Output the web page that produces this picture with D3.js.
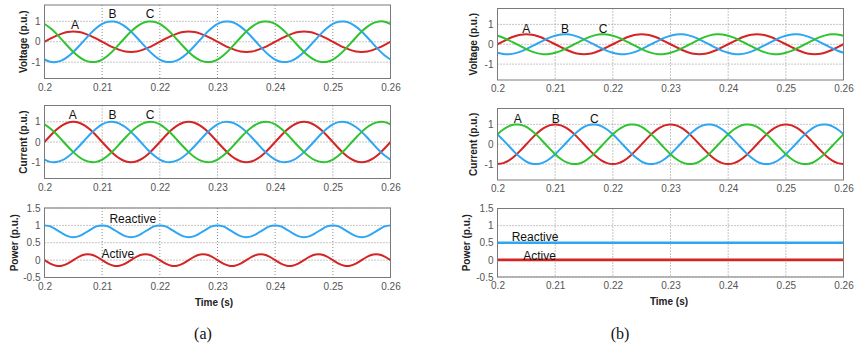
<!DOCTYPE html>
<html><head><meta charset="utf-8">
<script src="https://cdn.jsdelivr.net/npm/d3@7"></script>
<style>
body{margin:0;background:#fff}
svg{display:block}
text{font-family:"Liberation Sans",Arial,sans-serif}
</style>
</head><body>
<svg id="chart" width="854" height="348"></svg>
<script>
// ---------------- DATA ----------------
const time = [
0.200,0.201,0.202,0.203,0.204,0.205,0.206,0.207,0.208,0.209,
0.210,0.211,0.212,0.213,0.214,0.215,0.216,0.217,0.218,0.219,
0.220,0.221,0.222,0.223,0.224,0.225,0.226,0.227,0.228,0.229,
0.230,0.231,0.232,0.233,0.234,0.235,0.236,0.237,0.238,0.239,
0.240,0.241,0.242,0.243,0.244,0.245,0.246,0.247,0.248,0.249,
0.250,0.251,0.252,0.253,0.254,0.255,0.256,0.257,0.258,0.259,
0.260];

const xTicks = [0.2,0.21,0.22,0.23,0.24,0.25,0.26];
const xTickLabels = ["0.2","0.21","0.22","0.23","0.24","0.25","0.26"];
const waveTicks = [-1,0,1];
const waveTickLabels = ["-1","0","1"];
const powerTicks = [-0.5,0,0.5,1,1.5];
const powerTickLabels = ["-0.5","0","0.5","1","1.5"];

// (a) Voltage
const voltA_red = [
0,0.15,0.29,0.4,0.48,0.5,0.48,0.4,0.29,0.15,0,-0.15,-0.29,-0.4,-0.48,-0.5,-0.48,-0.4,-0.29,-0.15,
0,0.15,0.29,0.4,0.48,0.5,0.48,0.4,0.29,0.15,0,-0.15,-0.29,-0.4,-0.48,-0.5,-0.48,-0.4,-0.29,-0.15,
0,0.15,0.29,0.4,0.48,0.5,0.48,0.4,0.29,0.15,0,-0.15,-0.29,-0.4,-0.48,-0.5,-0.48,-0.4,-0.29,-0.15,
0];
const voltA_blue = [
-0.87,-0.98,-0.99,-0.91,-0.74,-0.5,-0.21,0.1,0.41,0.67,0.87,0.98,0.99,0.91,0.74,0.5,0.21,-0.1,-0.41,-0.67,
-0.87,-0.98,-0.99,-0.91,-0.74,-0.5,-0.21,0.1,0.41,0.67,0.87,0.98,0.99,0.91,0.74,0.5,0.21,-0.1,-0.41,-0.67,
-0.87,-0.98,-0.99,-0.91,-0.74,-0.5,-0.21,0.1,0.41,0.67,0.87,0.98,0.99,0.91,0.74,0.5,0.21,-0.1,-0.41,-0.67,
-0.87];
const voltA_green = [
0.87,0.67,0.41,0.1,-0.21,-0.5,-0.74,-0.91,-0.99,-0.98,-0.87,-0.67,-0.41,-0.1,0.21,0.5,0.74,0.91,0.99,0.98,
0.87,0.67,0.41,0.1,-0.21,-0.5,-0.74,-0.91,-0.99,-0.98,-0.87,-0.67,-0.41,-0.1,0.21,0.5,0.74,0.91,0.99,0.98,
0.87,0.67,0.41,0.1,-0.21,-0.5,-0.74,-0.91,-0.99,-0.98,-0.87,-0.67,-0.41,-0.1,0.21,0.5,0.74,0.91,0.99,0.98,
0.87];

// (a) Current
const currA_red = [
0,0.31,0.59,0.81,0.95,1,0.95,0.81,0.59,0.31,0,-0.31,-0.59,-0.81,-0.95,-1,-0.95,-0.81,-0.59,-0.31,
0,0.31,0.59,0.81,0.95,1,0.95,0.81,0.59,0.31,0,-0.31,-0.59,-0.81,-0.95,-1,-0.95,-0.81,-0.59,-0.31,
0,0.31,0.59,0.81,0.95,1,0.95,0.81,0.59,0.31,0,-0.31,-0.59,-0.81,-0.95,-1,-0.95,-0.81,-0.59,-0.31,
0];
const currA_blue = [
-0.87,-0.98,-0.99,-0.91,-0.74,-0.5,-0.21,0.1,0.41,0.67,0.87,0.98,0.99,0.91,0.74,0.5,0.21,-0.1,-0.41,-0.67,
-0.87,-0.98,-0.99,-0.91,-0.74,-0.5,-0.21,0.1,0.41,0.67,0.87,0.98,0.99,0.91,0.74,0.5,0.21,-0.1,-0.41,-0.67,
-0.87,-0.98,-0.99,-0.91,-0.74,-0.5,-0.21,0.1,0.41,0.67,0.87,0.98,0.99,0.91,0.74,0.5,0.21,-0.1,-0.41,-0.67,
-0.87];
const currA_green = [
0.87,0.67,0.41,0.1,-0.21,-0.5,-0.74,-0.91,-0.99,-0.98,-0.87,-0.67,-0.41,-0.1,0.21,0.5,0.74,0.91,0.99,0.98,
0.87,0.67,0.41,0.1,-0.21,-0.5,-0.74,-0.91,-0.99,-0.98,-0.87,-0.67,-0.41,-0.1,0.21,0.5,0.74,0.91,0.99,0.98,
0.87,0.67,0.41,0.1,-0.21,-0.5,-0.74,-0.91,-0.99,-0.98,-0.87,-0.67,-0.41,-0.1,0.21,0.5,0.74,0.91,0.99,0.98,
0.87];

// (a) Power
const powA_reactive = [
1,0.97,0.88,0.78,0.69,0.66,0.69,0.78,0.88,0.97,
1,0.97,0.88,0.78,0.69,0.66,0.69,0.78,0.88,0.97,
1,0.97,0.88,0.78,0.69,0.66,0.69,0.78,0.88,0.97,
1,0.97,0.88,0.78,0.69,0.66,0.69,0.78,0.88,0.97,
1,0.97,0.88,0.78,0.69,0.66,0.69,0.78,0.88,0.97,
1,0.97,0.88,0.78,0.69,0.66,0.69,0.78,0.88,0.97,
1];
const powA_active = [
0,-0.1,-0.16,-0.16,-0.1,0,0.1,0.16,0.16,0.1,
0,-0.1,-0.16,-0.16,-0.1,0,0.1,0.16,0.16,0.1,
0,-0.1,-0.16,-0.16,-0.1,0,0.1,0.16,0.16,0.1,
0,-0.1,-0.16,-0.16,-0.1,0,0.1,0.16,0.16,0.1,
0,-0.1,-0.16,-0.16,-0.1,0,0.1,0.16,0.16,0.1,
0,-0.1,-0.16,-0.16,-0.1,0,0.1,0.16,0.16,0.1,
0];

// (b) Voltage
const voltB_red = [
0,0.15,0.29,0.4,0.48,0.5,0.48,0.4,0.29,0.15,0,-0.15,-0.29,-0.4,-0.48,-0.5,-0.48,-0.4,-0.29,-0.15,
0,0.15,0.29,0.4,0.48,0.5,0.48,0.4,0.29,0.15,0,-0.15,-0.29,-0.4,-0.48,-0.5,-0.48,-0.4,-0.29,-0.15,
0,0.15,0.29,0.4,0.48,0.5,0.48,0.4,0.29,0.15,0,-0.15,-0.29,-0.4,-0.48,-0.5,-0.48,-0.4,-0.29,-0.15,
0];
const voltB_blue = [
-0.43,-0.49,-0.5,-0.46,-0.37,-0.25,-0.1,0.05,0.2,0.33,0.43,0.49,0.5,0.46,0.37,0.25,0.1,-0.05,-0.2,-0.33,
-0.43,-0.49,-0.5,-0.46,-0.37,-0.25,-0.1,0.05,0.2,0.33,0.43,0.49,0.5,0.46,0.37,0.25,0.1,-0.05,-0.2,-0.33,
-0.43,-0.49,-0.5,-0.46,-0.37,-0.25,-0.1,0.05,0.2,0.33,0.43,0.49,0.5,0.46,0.37,0.25,0.1,-0.05,-0.2,-0.33,
-0.43];
const voltB_green = [
0.43,0.33,0.2,0.05,-0.1,-0.25,-0.37,-0.46,-0.5,-0.49,-0.43,-0.33,-0.2,-0.05,0.1,0.25,0.37,0.46,0.5,0.49,
0.43,0.33,0.2,0.05,-0.1,-0.25,-0.37,-0.46,-0.5,-0.49,-0.43,-0.33,-0.2,-0.05,0.1,0.25,0.37,0.46,0.5,0.49,
0.43,0.33,0.2,0.05,-0.1,-0.25,-0.37,-0.46,-0.5,-0.49,-0.43,-0.33,-0.2,-0.05,0.1,0.25,0.37,0.46,0.5,0.49,
0.43];

// (b) Current
const currB_red = [
-1,-0.95,-0.81,-0.59,-0.31,0,0.31,0.59,0.81,0.95,1,0.95,0.81,0.59,0.31,0,-0.31,-0.59,-0.81,-0.95,
-1,-0.95,-0.81,-0.59,-0.31,0,0.31,0.59,0.81,0.95,1,0.95,0.81,0.59,0.31,0,-0.31,-0.59,-0.81,-0.95,
-1,-0.95,-0.81,-0.59,-0.31,0,0.31,0.59,0.81,0.95,1,0.95,0.81,0.59,0.31,0,-0.31,-0.59,-0.81,-0.95,
-1];
const currB_blue = [
0.5,0.21,-0.1,-0.41,-0.67,-0.87,-0.98,-0.99,-0.91,-0.74,-0.5,-0.21,0.1,0.41,0.67,0.87,0.98,0.99,0.91,0.74,
0.5,0.21,-0.1,-0.41,-0.67,-0.87,-0.98,-0.99,-0.91,-0.74,-0.5,-0.21,0.1,0.41,0.67,0.87,0.98,0.99,0.91,0.74,
0.5,0.21,-0.1,-0.41,-0.67,-0.87,-0.98,-0.99,-0.91,-0.74,-0.5,-0.21,0.1,0.41,0.67,0.87,0.98,0.99,0.91,0.74,
0.5];
const currB_green = [
0.5,0.74,0.91,0.99,0.98,0.87,0.67,0.41,0.1,-0.21,-0.5,-0.74,-0.91,-0.99,-0.98,-0.87,-0.67,-0.41,-0.1,0.21,
0.5,0.74,0.91,0.99,0.98,0.87,0.67,0.41,0.1,-0.21,-0.5,-0.74,-0.91,-0.99,-0.98,-0.87,-0.67,-0.41,-0.1,0.21,
0.5,0.74,0.91,0.99,0.98,0.87,0.67,0.41,0.1,-0.21,-0.5,-0.74,-0.91,-0.99,-0.98,-0.87,-0.67,-0.41,-0.1,0.21,
0.5];

// (b) Power (flat)
const powB_time = [0.2,0.26];
const powB_reactive = [0.5,0.5];
const powB_active = [0,0];

// Annotation texts and their data-space anchors
const labelsVoltA = [{text:"A",t:0.2053,v:0.63},{text:"B",t:0.2118,v:1.15},{text:"C",t:0.2183,v:1.15}];
const labelsCurrA = [{text:"A",t:0.2049,v:1.13},{text:"B",t:0.2118,v:1.13},{text:"C",t:0.2183,v:1.13}];
const labelsPowA  = [{text:"Reactive",t:0.2153,v:1.08},{text:"Active",t:0.2127,v:0.06}];
const labelsVoltB = [{text:"A",t:0.2050,v:0.575},{text:"B",t:0.2117,v:0.575},{text:"C",t:0.2183,v:0.575}];
const labelsCurrB = [{text:"A",t:0.2035,v:1.08},{text:"B",t:0.2101,v:1.08},{text:"C",t:0.2168,v:1.08}];
const labelsPowB  = [{text:"Reactive",t:0.2065,v:0.55},{text:"Active",t:0.2073,v:0.01}];

// ---------------- STYLE / LAYOUT ----------------
const RED = "#d42424", BLUE = "#2ea6f2", GREEN = "#2fc42f";
const svg = d3.select("#chart");
let clipId = 0;

function panel(cfg) {
  const x = d3.scaleLinear().domain([0.2, 0.26]).range([cfg.left, cfg.right]);
  const y = d3.scaleLinear().domain(cfg.yDomain).range([cfg.bottom, cfg.top]);
  const g = svg.append("g");

  // grid
  g.append("g").selectAll("line").data(xTicks).join("line")
    .attr("x1", d => x(d)).attr("x2", d => x(d))
    .attr("y1", cfg.top).attr("y2", cfg.bottom)
    .attr("stroke", "#8c8c8c").attr("stroke-width", 1)
    .attr("stroke-dasharray", "1,2");
  g.append("g").selectAll("line").data(cfg.yTicks).join("line")
    .attr("x1", cfg.left).attr("x2", cfg.right)
    .attr("y1", d => y(d)).attr("y2", d => y(d))
    .attr("stroke", "#8c8c8c").attr("stroke-width", 1)
    .attr("stroke-dasharray", "1,2");

  // clip
  const id = "clip" + (clipId++);
  svg.append("clipPath").attr("id", id).append("rect")
    .attr("x", cfg.left).attr("y", cfg.top)
    .attr("width", cfg.right - cfg.left).attr("height", cfg.bottom - cfg.top);

  const lg = g.append("g").attr("clip-path", `url(#${id})`);
  cfg.series.forEach(s => {
    const tt = s.t || time;
    const line = d3.line().x((d, i) => x(tt[i])).y(d => y(d)).curve(d3.curveNatural);
    lg.append("path").datum(s.values)
      .attr("d", line).attr("fill", "none")
      .attr("stroke", s.color).attr("stroke-width", s.width || 2)
      .attr("stroke-linejoin", "round");
  });

  // frame
  g.append("rect").attr("x", cfg.left).attr("y", cfg.top)
    .attr("width", cfg.right - cfg.left).attr("height", cfg.bottom - cfg.top)
    .attr("fill", "none").attr("stroke", "#7a7a7a").attr("stroke-width", 1);

  // axes
  const ax = g.append("g").attr("transform", `translate(0,${cfg.bottom})`)
    .call(d3.axisBottom(x).tickValues(xTicks).tickFormat((d, i) => xTickLabels[i]).tickSize(0).tickPadding(5));
  ax.select(".domain").remove();
  ax.selectAll("text").attr("font-size", 10).attr("fill", "#555")
    .style("font-family", "'Liberation Sans',Arial,sans-serif");

  const ay = g.append("g").attr("transform", `translate(${cfg.left},0)`)
    .call(d3.axisLeft(y).tickValues(cfg.yTicks).tickFormat((d, i) => cfg.yTickLabels[i]).tickSize(0).tickPadding(4));
  ay.select(".domain").remove();
  ay.selectAll("text").attr("font-size", 10).attr("fill", "#555")
    .style("font-family", "'Liberation Sans',Arial,sans-serif");

  // y label
  g.append("text")
    .attr("transform", `translate(${cfg.ylabelX},${(cfg.top + cfg.bottom) / 2}) rotate(-90)`)
    .attr("text-anchor", "middle").attr("dy", "0.35em")
    .attr("font-size", 10).attr("font-weight", "bold").attr("fill", "#222")
    .text(cfg.ylabel);

  // annotations
  g.append("g").selectAll("text").data(cfg.labels).join("text")
    .attr("x", d => x(d.t)).attr("y", d => y(d.v))
    .attr("text-anchor", "middle").attr("font-size", 12).attr("fill", "#111")
    .text(d => d.text);

  if (cfg.xlabel) {
    g.append("text").attr("x", cfg.xlabelX).attr("y", cfg.bottom + 28)
      .attr("text-anchor", "middle").attr("font-size", 10).attr("font-weight", "bold").attr("fill", "#222")
      .text(cfg.xlabel);
  }
}

const LA = {left: 44.5, right: 390.5};
const RB = {left: 497.5, right: 843.5};

panel({...LA, top: 5, bottom: 78.5, yDomain: [-1.8, 1.8], yTicks: waveTicks, yTickLabels: waveTickLabels,
  ylabel: "Voltage (p.u.)", ylabelX: 23, labels: labelsVoltA,
  series: [{values: voltA_red, color: RED}, {values: voltA_blue, color: BLUE}, {values: voltA_green, color: GREEN}]});
panel({...LA, top: 105.5, bottom: 178.5, yDomain: [-1.8, 1.8], yTicks: waveTicks, yTickLabels: waveTickLabels,
  ylabel: "Current (p.u.)", ylabelX: 23, labels: labelsCurrA,
  series: [{values: currA_red, color: RED}, {values: currA_blue, color: BLUE}, {values: currA_green, color: GREEN}]});
panel({...LA, top: 208, bottom: 277.5, yDomain: [-0.5, 1.5], yTicks: powerTicks, yTickLabels: powerTickLabels,
  ylabel: "Power (p.u.)", ylabelX: 14, labels: labelsPowA, xlabel: "Time (s)", xlabelX: 214,
  series: [{values: powA_reactive, color: BLUE}, {values: powA_active, color: RED}]});

panel({...RB, top: 8.5, bottom: 80, yDomain: [-1.8, 1.8], yTicks: waveTicks, yTickLabels: waveTickLabels,
  ylabel: "Voltage (p.u.)", ylabelX: 473.5, labels: labelsVoltB,
  series: [{values: voltB_red, color: RED}, {values: voltB_blue, color: BLUE}, {values: voltB_green, color: GREEN}]});
panel({...RB, top: 108.5, bottom: 180, yDomain: [-1.8, 1.8], yTicks: waveTicks, yTickLabels: waveTickLabels,
  ylabel: "Current (p.u.)", ylabelX: 473.5, labels: labelsCurrB,
  series: [{values: currB_red, color: RED}, {values: currB_blue, color: BLUE}, {values: currB_green, color: GREEN}]});
panel({...RB, top: 208.5, bottom: 277, yDomain: [-0.5, 1.5], yTicks: powerTicks, yTickLabels: powerTickLabels,
  ylabel: "Power (p.u.)", ylabelX: 466, labels: labelsPowB, xlabel: "Time (s)", xlabelX: 669,
  series: [{t: powB_time, values: powB_reactive, color: BLUE, width: 2.6}, {t: powB_time, values: powB_active, color: RED, width: 2.6}]});

// captions
svg.append("text").attr("x", 203).attr("y", 339).attr("text-anchor", "middle")
  .style("font-family", "'Liberation Serif','Times New Roman',serif").attr("font-size", 16).attr("fill", "#111").text("(a)");
svg.append("text").attr("x", 620).attr("y", 339).attr("text-anchor", "middle")
  .style("font-family", "'Liberation Serif','Times New Roman',serif").attr("font-size", 16).attr("fill", "#111").text("(b)");
</script>
</body></html>
